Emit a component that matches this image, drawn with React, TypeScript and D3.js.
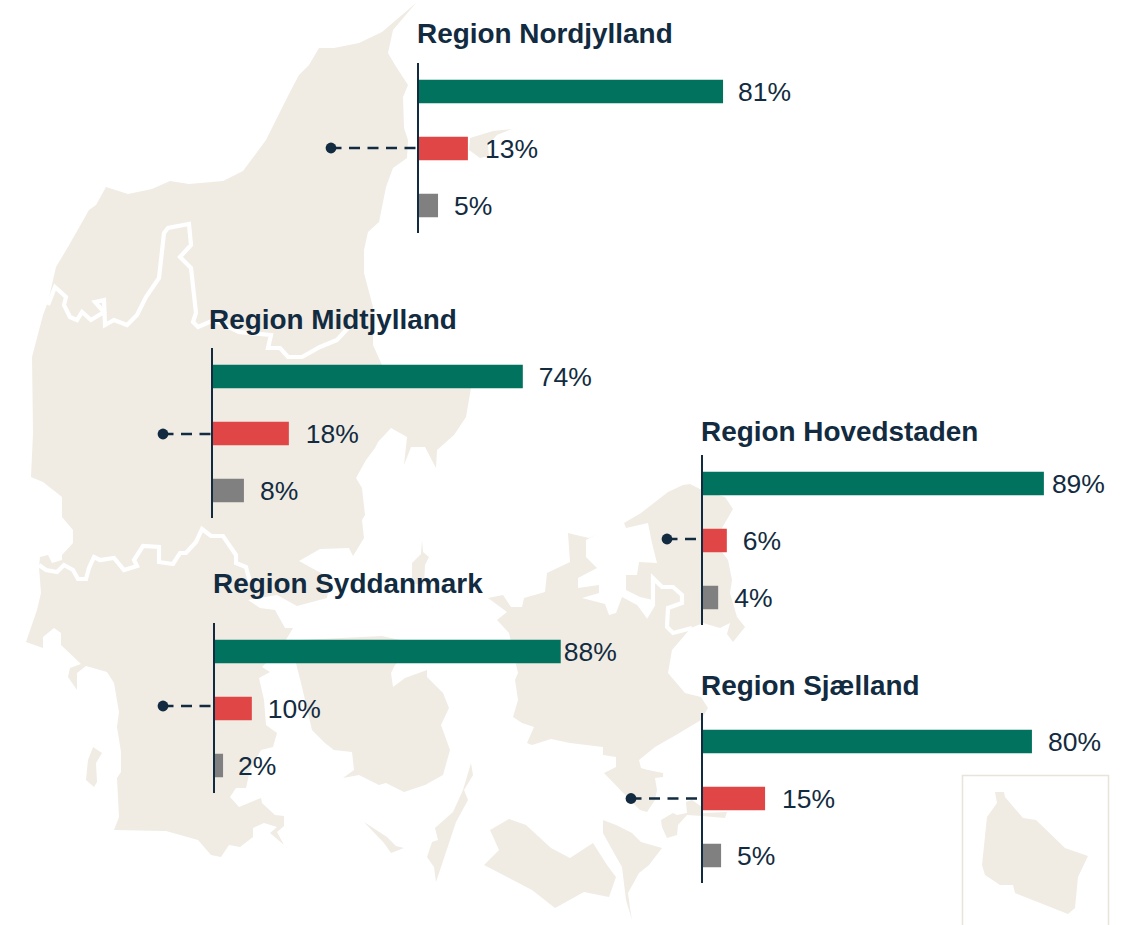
import React from "react";
import * as d3 from "d3";

type Pt = [number, number];

// ---------- data ----------
const regions = ["Region Nordjylland", "Region Midtjylland", "Region Hovedstaden", "Region Syddanmark", "Region Sjælland"];
const answerKeys = ["green", "red", "grey"];
const greenValues = [80.7, 74.0, 88.8, 88.0, 79.5];
const redValues = [13.2, 18.3, 6.45, 9.6, 15.2];
const greyValues = [5.3, 7.6, 4.2, 2.3, 4.6];

// ---------- layout per region ----------
const panelX = [418, 212, 702, 214, 702];
const panelTop = [63, 348, 455, 623, 713];
const pxPerPoint = [3.78, 4.2, 3.85, 3.94, 4.15];
const titleX = [417, 209, 701, 213, 701];
const titleBaseline = [43, 329, 441, 593, 695];
const dotX = [331, 163, 667, 163, 631];
const dotY = [148, 434, 539, 706, 798.5];
const labelGaps = [
  [15, 17, 16],
  [16, 17, 16],
  [8, 16, 16],
  [3, 16, 15],
  [16, 17, 16],
];

const COLORS = { green: "#00725e", red: "#e04646", grey: "#808080", ink: "#122b40", land: "#f0ece4", frame: "#e9e4da" };
const FONT = "'Liberation Sans', Arial, sans-serif";

// ---------- background map outlines ----------
const jutland: Pt[] = [
  [416, 3], [393, 30], [388, 53], [395, 65], [408, 85], [403, 97], [404, 128], [408, 140], [407, 158], [393, 168], [386, 187], [379, 222], [368, 232], [364, 250], [364, 273], [373, 307], [373, 345], [382, 365], [400, 375], [471, 388], [466, 417], [454, 435], [437, 450], [436, 468], [425, 447], [411, 447], [404, 465], [407, 437], [391, 428], [378, 442], [375, 448], [366, 460], [356, 478], [362, 488], [365, 515], [362, 520], [364, 538], [353, 556], [349, 548], [320, 549], [299, 561], [330, 578], [327, 598], [297, 606], [277, 595], [248, 600], [260, 608], [275, 610], [285, 628], [293, 628], [280, 650], [262, 667], [270, 672], [259, 678], [264, 700], [266, 725], [277, 733], [273, 747], [261, 750], [250, 770], [246, 788], [236, 788], [230, 797], [239, 807], [261, 798], [262, 803], [275, 815], [284, 816], [284, 826], [277, 832], [284, 845], [270, 833], [277, 827], [264, 823], [253, 828], [253, 837], [240, 847], [229, 845], [221, 857], [211, 855], [198, 840], [166, 831], [114, 830], [119, 817], [117, 778], [121, 772], [121, 752], [117, 727], [119, 712], [114, 683], [107, 672], [86, 666], [77, 673], [77, 690], [68, 677], [70, 668], [81, 664], [61, 645], [61, 633], [54, 628], [43, 637], [43, 648], [26, 642], [37, 610], [41, 593], [39, 567], [40, 557], [48, 555], [52, 563], [62, 560], [62, 555], [73, 543], [73, 530], [62, 517], [62, 497], [43, 482], [31, 477], [33, 433], [32, 357], [43, 315], [48, 302], [56, 267], [68, 247], [89, 210], [96, 205], [106, 187], [128, 194], [152, 189], [170, 181], [189, 184], [223, 181], [243, 171], [266, 140], [291, 90], [299, 75], [309, 65], [319, 48], [334, 48], [359, 43], [382, 32],
];
const laesoe: Pt[] = [[470, 138], [493, 131], [512, 129], [497, 135], [488, 145], [489, 156], [480, 158], [469, 150]];
const roemoe: Pt[] = [[93, 747], [102, 753], [96, 763], [97, 782], [94, 787], [86, 780], [88, 760]];
const samsoe: Pt[] = [[422, 540], [423, 552], [429, 557], [425, 565], [424, 584], [412, 584], [412, 563], [421, 554]];
const fyn: Pt[] = [[382, 636], [300, 640], [296, 663], [302, 687], [312, 730], [325, 743], [334, 750], [352, 752], [354, 770], [343, 778], [359, 775], [379, 785], [386, 783], [404, 792], [425, 785], [443, 775], [450, 750], [441, 725], [449, 708], [443, 693], [427, 677], [427, 670], [405, 678], [393, 687], [391, 673], [395, 665], [410, 650], [400, 640]];
const langeland: Pt[] = [[471, 763], [473, 775], [464, 790], [468, 800], [456, 822], [436, 882], [434, 867], [427, 857], [432, 842], [438, 840], [435, 828], [453, 812], [463, 790]];
const aeroe: Pt[] = [[364, 822], [384, 843], [391, 853], [404, 848], [396, 846], [387, 837]];
const zealand: Pt[] = [
  [690, 484], [702, 490], [725, 497], [733, 509], [722, 528], [722, 552], [728, 560], [732, 580], [730, 593], [737, 617], [745, 627], [733, 642], [727, 634], [730, 623], [720, 628], [703, 623], [691, 628], [672, 650], [668, 673], [685, 693], [701, 697], [708, 708], [701, 720], [676, 735], [655, 747], [639, 760], [641, 768], [648, 770], [663, 773], [663, 777], [655, 778], [657, 790], [655, 800], [647, 812], [640, 810], [630, 800], [604, 773], [616, 767], [616, 757], [603, 755], [603, 747], [570, 743], [551, 739], [532, 745], [527, 743], [534, 727], [522, 723], [513, 717], [518, 700], [515, 680], [518, 673], [509, 633], [497, 620], [507, 612], [488, 598], [503, 595], [511, 607], [522, 607], [524, 598], [545, 592], [547, 573], [570, 562], [568, 533], [576, 535], [589, 538], [599, 533], [586, 540], [586, 557], [597, 568], [578, 578], [578, 588], [599, 585], [599, 593], [582, 598], [605, 604], [609, 615], [616, 613], [622, 597], [637, 605], [647, 617], [653, 600], [640, 597], [626, 590], [626, 575], [637, 575], [639, 562], [657, 563], [652, 543], [648, 523], [626, 528], [624, 523], [641, 513], [668, 492], [683, 485],
];
const lolland: Pt[] = [[484, 865], [499, 850], [490, 830], [509, 819], [526, 825], [551, 848], [570, 858], [593, 843], [607, 865], [616, 877], [609, 897], [584, 892], [555, 908], [532, 890]];
const falster: Pt[] = [[603, 820], [616, 825], [632, 833], [641, 842], [662, 848], [649, 865], [639, 873], [628, 893], [630, 908], [632, 920], [626, 900], [622, 867], [614, 853], [603, 833]];
const moen: Pt[] = [[661, 820], [673, 813], [677, 815], [687, 813], [686, 802], [692, 800], [702, 807], [702, 813], [727, 812], [725, 818], [702, 816], [687, 815], [678, 825], [677, 835], [667, 838], [662, 827]];
const bornholm: Pt[] = [[995, 792], [1004, 792], [1005, 797], [1023, 818], [1036, 820], [1065, 848], [1088, 856], [1078, 877], [1075, 908], [1068, 914], [1015, 893], [1013, 885], [1000, 885], [985, 875], [982, 865], [987, 817], [997, 803]];
const landShapes = [jutland, laesoe, roemoe, samsoe, fyn, langeland, aeroe, zealand, lolland, falster, moen, bornholm];

const borderNorth: Pt[] = [[48, 305], [55, 287], [66, 297], [64, 305], [70, 317], [77, 320], [82, 312], [91, 320], [104, 312], [95, 302], [104, 300], [105, 325], [114, 320], [127, 325], [137, 315], [146, 297], [159, 278], [164, 233], [168, 228], [189, 224], [191, 245], [180, 257], [191, 268], [196, 313], [193, 322], [198, 327], [214, 320], [239, 332], [271, 335], [268, 348], [280, 348], [288, 357], [302, 357], [320, 347], [337, 340], [348, 328]];
const borderSouth: Pt[] = [[39, 565], [46, 570], [57, 572], [64, 565], [73, 570], [78, 579], [86, 579], [89, 568], [94, 557], [100, 560], [114, 558], [124, 570], [137, 566], [134, 560], [143, 546], [159, 547], [159, 562], [173, 564], [180, 553], [186, 553], [196, 542], [202, 529], [211, 536], [223, 536], [236, 555], [236, 563], [246, 567], [250, 582]];
const borderCapital: Pt[] = [[640, 605], [647, 615], [653, 605], [653, 578], [662, 587], [673, 587], [682, 595], [682, 603], [668, 608], [667, 627], [673, 633], [692, 628]];
const borderLines = [borderNorth, borderSouth, borderCapital];

const framePath: Pt[] = [[962.5, 925], [962.5, 775.5], [1108.5, 775.5], [1108.5, 925]];

const polygon = d3.line<Pt>().x((d) => d[0]).y((d) => d[1]).curve(d3.curveLinearClosed);
const polyline = d3.line<Pt>().x((d) => d[0]).y((d) => d[1]);

function Panel({ index }: { index: number }) {
  const x0 = panelX[index];
  const top = panelTop[index];
  const values = [greenValues[index], redValues[index], greyValues[index]];
  const x = d3.scaleLinear().domain([0, 100]).range([x0, x0 + pxPerPoint[index] * 100]);
  const y = d3.scalePoint<string>().domain(answerKeys).range([top + 28.5, top + 142.5]);
  const barHeight = 23.5;
  return (
    <g>
      <text x={titleX[index]} y={titleBaseline[index]} fontFamily={FONT} fontWeight={700} fontSize={27.9} fill={COLORS.ink}>
        {regions[index]}
      </text>
      {answerKeys.map((k, i) => (
        <g key={k}>
          <rect x={x0} y={y(k)! - barHeight / 2} width={x(values[i]) - x0} height={barHeight} fill={(COLORS as any)[k]} />
          <text x={x(values[i]) + labelGaps[index][i]} y={y(k)! + 9} fontFamily={FONT} fontSize={26.5} fill={COLORS.ink}>
            {d3.format(".0f")(values[i])}%
          </text>
        </g>
      ))}
      <line x1={dotX[index]} x2={x0} y1={dotY[index]} y2={dotY[index]} stroke={COLORS.ink} strokeWidth={2.7} strokeDasharray="10.5 7.5 11 7.5 11 7.5 11 7.5 11 7.5" />
      <circle cx={dotX[index]} cy={dotY[index]} r={5.4} fill={COLORS.ink} />
      <line x1={x0} x2={x0} y1={top} y2={top + 170} stroke={COLORS.ink} strokeWidth={2} />
    </g>
  );
}

export default function App() {
  return (
    <svg width={1135} height={925} style={{ position: "absolute", left: 0, top: 0, background: "#fff" }}>
      {landShapes.map((s, i) => (
        <path key={i} d={polygon(s)!} fill={COLORS.land} />
      ))}
      {borderLines.map((s, i) => (
        <path key={i} d={polyline(s)!} fill="none" stroke="#fff" strokeWidth={4.2} strokeLinejoin="miter" />
      ))}
      <path d={polyline(framePath)!} fill="none" stroke={COLORS.frame} strokeWidth={1.5} />
      {regions.map((_, i) => (
        <Panel key={i} index={i} />
      ))}
    </svg>
  );
}
